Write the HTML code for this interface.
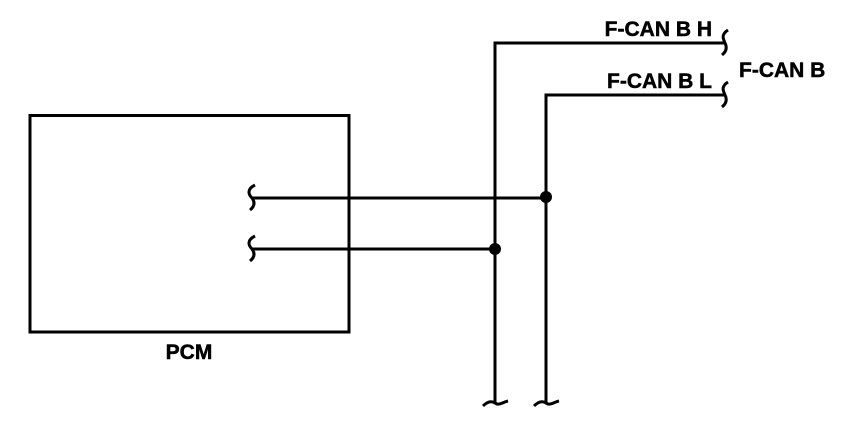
<!DOCTYPE html>
<html><head><style>
html,body{margin:0;padding:0;background:#fff;}
svg{display:block;}
text{font-family:"Liberation Sans",Arial,sans-serif;font-weight:bold;font-size:21px;fill:#000;stroke:#000;stroke-width:0.5;}
</style></head><body>
<svg width="864" height="440" viewBox="0 0 864 440" xmlns="http://www.w3.org/2000/svg">
<g fill="none" stroke="#000" stroke-width="3">
<rect x="30" y="115.5" width="319" height="216.5"/>
<polyline points="495,403 495,43 725,43"/>
<polyline points="546,403 546,95 725,95"/>
<line x1="252" y1="198" x2="546" y2="198"/>
<line x1="252" y1="249" x2="495" y2="249"/>
<path d="M255,185 C245,190 250,196 252,198 C255,202 255,206 250,210"/>
<path d="M255,236 C245,241 250,247 252,249 C255,253 255,257 250,261"/>
<path d="M728,30 C720,35 724,40 725,43 C727,47 727,51 722,55"/>
<path d="M728,82 C720,87 724,92 725,95 C727,99 727,103 722,107"/>
<path d="M483,406 C488,401 492,401 495,403 C499,406 503,402 508,401"/>
<path d="M534,406 C539,401 543,401 546,403 C550,406 554,402 559,401"/>
</g>
<circle cx="546" cy="197" r="6"/>
<circle cx="495" cy="249" r="6"/>
<text x="712" y="36" text-anchor="end">F-CAN B H</text>
<text x="712" y="88" text-anchor="end">F-CAN B L</text>
<text x="739" y="77">F-CAN B</text>
<text x="189" y="359" text-anchor="middle">PCM</text>
</svg>
</body></html>
